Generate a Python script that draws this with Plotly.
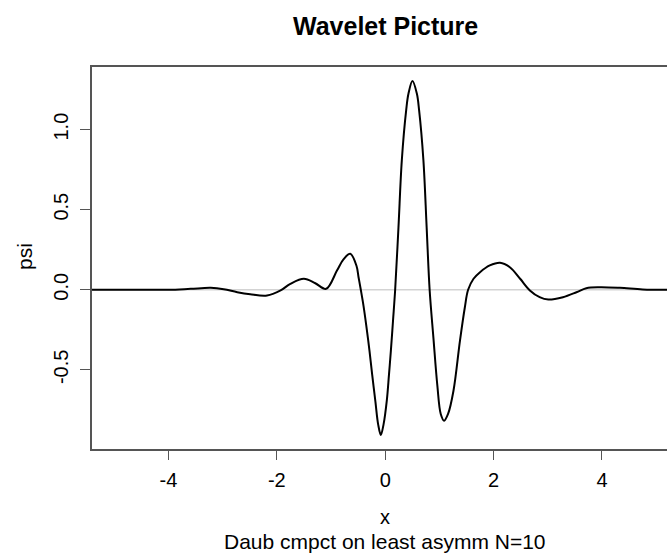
import plotly.graph_objects as go

# Wavelet values
x_vals = [-5.41, -5.0, -4.5, -4.0, -3.59, -3.22, -2.98, -2.73, -2.49, -2.18, -1.93,
          -1.75, -1.5, -1.29, -1.09, -0.89, -0.77, -0.645, -0.53, -0.49, -0.45,
          -0.40, -0.35, -0.29, -0.24, -0.18, -0.13, -0.08, -0.03, 0.03, 0.07,
          0.105, 0.145, 0.184, 0.245, 0.307, 0.387, 0.43, 0.503, 0.584, 0.626,
          0.705, 0.765, 0.82, 0.89, 0.963, 1.025, 1.087, 1.16, 1.26, 1.38,
          1.47, 1.53, 1.63, 1.75, 1.93, 2.12, 2.30, 2.49, 2.67, 2.85,
          3.01, 3.28, 3.53, 3.71, 3.96, 4.33, 4.75, 5.2]
psi_vals = [0.0, 0.0, 0.0, 0.0, 0.006, 0.012, 0.004, -0.015, -0.028, -0.036, -0.004,
            0.037, 0.069, 0.041, 0.006, 0.12, 0.19, 0.225, 0.15, 0.075, 0.0,
            -0.10, -0.22, -0.38, -0.53, -0.70, -0.84, -0.906, -0.84, -0.69, -0.53,
            -0.38, -0.19, 0.0, 0.39, 0.81, 1.12, 1.225, 1.303, 1.225, 1.12,
            0.81, 0.39, 0.0, -0.30, -0.60, -0.775, -0.817, -0.775, -0.63, -0.317,
            -0.109, 0.0, 0.069, 0.11, 0.152, 0.169, 0.141, 0.069, -0.004, -0.046,
            -0.061, -0.046, -0.015, 0.01, 0.016, 0.012, 0.002, 0.0]

x_ticks = [-4, -2, 0, 2, 4]
y_ticks = [-0.5, 0.0, 0.5, 1.0]
y_tick_labels = ["-0.5", "0.0", "0.5", "1.0"]

FONT = "Liberation Sans, Arial, Helvetica, sans-serif"
AXIS_COLOR = "#555555"

PLOT_TOP, PLOT_BOTTOM, PLOT_LEFT, PLOT_W = 67, 449, 92, 575
PLOT_H = PLOT_BOTTOM - PLOT_TOP


def py(pix):
    return (PLOT_BOTTOM - pix) / PLOT_H


def px(pix):
    return (pix - PLOT_LEFT) / PLOT_W


fig = go.Figure()
fig.add_trace(go.Scatter(
    x=x_vals, y=psi_vals, mode="lines",
    line=dict(color="black", width=2, shape="spline", smoothing=1.0),
    hoverinfo="skip", showlegend=False, cliponaxis=True,
))

fig.add_shape(type="line", xref="paper", yref="y", x0=0, x1=1, y0=0, y1=0,
              line=dict(color="#d3d3d3", width=1.5), layer="below")

fig.update_layout(
    width=667, height=554,
    margin=dict(l=PLOT_LEFT, r=0, t=PLOT_TOP, b=554 - PLOT_BOTTOM),
    plot_bgcolor="white", paper_bgcolor="white",
    font=dict(family=FONT, size=20, color="black"),
    showlegend=False,
    xaxis=dict(
        range=[-5.41, 5.2], tickvals=x_ticks, ticktext=[str(v) for v in x_ticks],
        showgrid=False, zeroline=False,
        showline=True, linecolor=AXIS_COLOR, linewidth=1.5, mirror=True,
        ticks="outside", ticklen=9, tickcolor=AXIS_COLOR, tickwidth=1.2,
        ticklabelstandoff=3, tickfont=dict(size=20, family=FONT),
    ),
    yaxis=dict(
        range=[-0.994, 1.391], tickvals=y_ticks, ticktext=y_tick_labels,
        showgrid=False, zeroline=False,
        showline=True, linecolor=AXIS_COLOR, linewidth=1.5, mirror=False,
        ticks="outside", ticklen=10, tickcolor=AXIS_COLOR, tickwidth=1.2,
        tickangle=-90, ticklabelstandoff=4, tickfont=dict(size=20, family=FONT),
    ),
    annotations=[
        dict(text="<b>Wavelet Picture</b>", xref="paper", yref="paper",
             x=px(385), y=py(26), xanchor="center", yanchor="middle",
             showarrow=False, font=dict(size=25, family=FONT)),
        dict(text="x", xref="paper", yref="paper",
             x=px(385), y=py(517), xanchor="center", yanchor="middle",
             showarrow=False, font=dict(size=20, family=FONT)),
        dict(text="Daub cmpct on least asymm N=10", xref="paper", yref="paper",
             x=px(385), y=py(541), xanchor="center", yanchor="middle",
             showarrow=False, font=dict(size=21, family=FONT)),
        dict(text="psi", xref="paper", yref="paper",
             x=px(24), y=py(257), xanchor="center", yanchor="middle",
             textangle=-90, showarrow=False, font=dict(size=21, family=FONT)),
    ],
)

fig.write_html("out.html")
